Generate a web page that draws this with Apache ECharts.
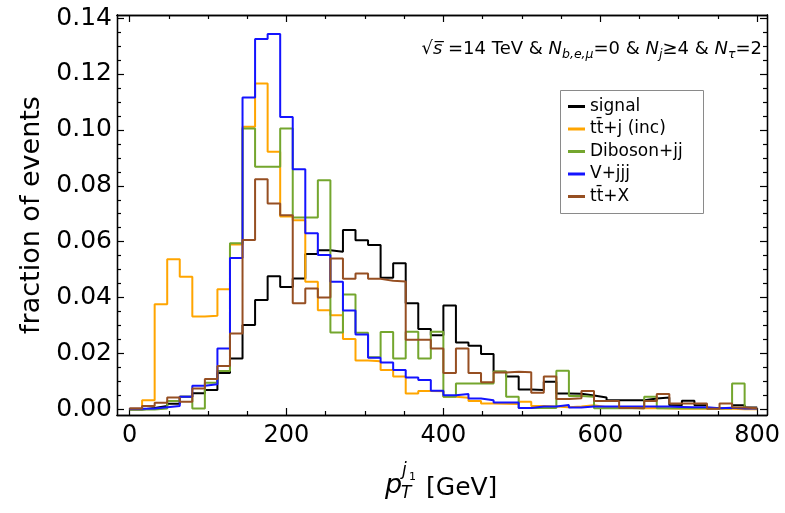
<!DOCTYPE html>
<html>
<head>
<meta charset="utf-8">
<script src="https://cdn.jsdelivr.net/npm/echarts@6/dist/echarts.min.js"></script>
<style>
  html, body { margin: 0; padding: 0; background: #fff; }
  #chart { width: 785px; height: 513px; }
</style>
</head>
<body>
<div id="chart"></div>
<script>
// histogram bins: 50 bins of 16 GeV from 0 to 800
const binWidth = 16;
const signal = [0.0000, 0.0005, 0.0012, 0.0020, 0.0045, 0.0058, 0.0069, 0.0130, 0.0182, 0.0302,
  0.0391, 0.0476, 0.0438, 0.0468, 0.0556, 0.0569, 0.0564, 0.0642, 0.0605, 0.0588,
  0.0471, 0.0523, 0.0380, 0.0288, 0.0265, 0.0372, 0.0239, 0.0228, 0.0198, 0.0135,
  0.0118, 0.0071, 0.0069, 0.0099, 0.0057, 0.0056, 0.0050, 0.0043, 0.0033, 0.0033,
  0.0033, 0.0039, 0.0043, 0.0015, 0.0031, 0.0015, 0.0004, 0.0004, 0.0015, 0.0007];
const ttj = [0.0003, 0.0033, 0.0376, 0.0537, 0.0475, 0.0332, 0.0335, 0.0430, 0.0590, 0.1011,
  0.1166, 0.0922, 0.0690, 0.0677, 0.0457, 0.0355, 0.0337, 0.0252, 0.0175, 0.0172,
  0.0141, 0.0118, 0.0057, 0.0066, 0.0065, 0.0045, 0.0042, 0.0030, 0.0021, 0.0020,
  0.0019, 0.0027, 0.0012, 0.0010, 0.0008, 0.0010, 0.0015, 0.0008, 0.0006, 0.0006,
  0.0004, 0.0005, 0.0003, 0.0002, 0.0003, 0.0002, 0.0002, 0.0002, 0.0001, 0.0001];
const diboson = [0.0000, 0.0000, 0.0003, 0.0030, 0.0045, 0.0003, 0.0095, 0.0137, 0.0594, 0.1005,
  0.0868, 0.0868, 0.1005, 0.0687, 0.0687, 0.0820, 0.0275, 0.0411, 0.0274, 0.0187,
  0.0277, 0.0182, 0.0278, 0.0182, 0.0278, 0.0045, 0.0093, 0.0093, 0.0093, 0.0136,
  0.0045, 0.0005, 0.0005, 0.0005, 0.0138, 0.0048, 0.0045, 0.0004, 0.0004, 0.0004,
  0.0004, 0.0045, 0.0004, 0.0004, 0.0004, 0.0004, 0.0004, 0.0004, 0.0093, 0.0004];
const vjjj = [0.0002, 0.0003, 0.0008, 0.0012, 0.0045, 0.0085, 0.0090, 0.0218, 0.0542, 0.1116,
  0.1325, 0.1343, 0.1046, 0.0859, 0.0630, 0.0552, 0.0457, 0.0354, 0.0268, 0.0185,
  0.0168, 0.0141, 0.0114, 0.0105, 0.0067, 0.0051, 0.0055, 0.0039, 0.0033, 0.0025,
  0.0025, 0.0005, 0.0010, 0.0010, 0.0016, 0.0007, 0.0010, 0.0010, 0.0010, 0.0010,
  0.0010, 0.0010, 0.0010, 0.0009, 0.0008, 0.0008, 0.0004, 0.0006, 0.0003, 0.0003];
const ttx = [0.0003, 0.0012, 0.0024, 0.0043, 0.0027, 0.0075, 0.0109, 0.0155, 0.0272, 0.0606,
  0.0823, 0.0737, 0.0695, 0.0380, 0.0433, 0.0400, 0.0540, 0.0467, 0.0486, 0.0467,
  0.0460, 0.0458, 0.0249, 0.0249, 0.0218, 0.0130, 0.0218, 0.0130, 0.0097, 0.0132,
  0.0135, 0.0133, 0.0060, 0.0118, 0.0037, 0.0040, 0.0066, 0.0030, 0.0030, 0.0005,
  0.0004, 0.0030, 0.0055, 0.0021, 0.0021, 0.0021, 0.0002, 0.0021, 0.0007, 0.0004];

const seriesNames = ['signal', 't\u0074\u0304+j (inc)', 'Diboson+jj', 'V+jjj', 't\u0074\u0304+X'];
const seriesColors = ['#000000', '#FFA500', '#74A62E', '#1414FF', '#964F22'];

const xTicks = [0, 200, 400, 600, 800];
const yTicks = [0, 0.02, 0.04, 0.06, 0.08, 0.10, 0.12, 0.14];

let xMinor = [];
for (let v = 0; v <= 800; v += 50) if (xTicks.indexOf(v) < 0) xMinor.push(v);
let yMinor = [];
for (let i = 0; i <= 28; i++) if (i % 4 !== 0) yMinor.push(+(i * 0.005).toFixed(3));

const font = 'DejaVu Sans';

function toSteps(vals) {
  let pts = vals.map((v, i) => [i * binWidth, v]);
  pts.push([vals.length * binWidth, vals[vals.length - 1]]);
  return pts;
}

function xAx(pos, ticks, len, labels) {
  return {
    type: 'value', position: pos, min: -16, max: 812.5,
    axisLine: { show: true, onZero: false, lineStyle: { color: '#000', width: 1.3 } },
    axisTick: { show: true, inside: true, length: len, customValues: ticks, lineStyle: { color: '#000', width: 1.2 } },
    axisLabel: labels ? { show: true, customValues: ticks, fontSize: 24, fontFamily: font, color: '#000', margin: 9 } : { show: false },
    splitLine: { show: false }
  };
}
function yAx(pos, ticks, len, labels) {
  return {
    type: 'value', position: pos, min: -0.002, max: 0.1411,
    axisLine: { show: true, onZero: false, lineStyle: { color: '#000', width: 1.3 } },
    axisTick: { show: true, inside: true, length: len, customValues: ticks, lineStyle: { color: '#000', width: 1.2 } },
    axisLabel: labels ? {
      show: true, customValues: ticks, fontSize: 25, fontFamily: font, color: '#000', margin: 5,
      formatter: v => v.toFixed(2)
    } : { show: false },
    splitLine: { show: false }
  };
}

const datasets = [signal, ttj, diboson, vjjj, ttx];

const chart = echarts.init(document.getElementById('chart'));
chart.setOption({
  animation: false,
  backgroundColor: '#fff',
  grid: { left: 117, right: 18, top: 15, bottom: 98 },
  xAxis: [xAx('bottom', xTicks, 7, true), xAx('bottom', xMinor, 4, false), xAx('top', xTicks, 7, false), xAx('top', xMinor, 4, false)],
  yAxis: [
    Object.assign(yAx('left', yTicks, 7, true), {
      name: 'fraction of events', nameLocation: 'middle', nameGap: 72,
      nameTextStyle: { fontSize: 27, fontFamily: font, color: '#000' }
    }),
    yAx('left', yMinor, 4, false), yAx('right', yTicks, 7, false), yAx('right', yMinor, 4, false)
  ],
  legend: {
    orient: 'vertical', left: 563, top: 93, z: 5,
    itemWidth: 17, itemHeight: 3, itemGap: 5.5, icon: 'rect',
    textStyle: { fontSize: 17, fontFamily: font, color: '#000', lineHeight: 17 },
    data: seriesNames
  },
  graphic: [
    {
      type: 'rect', z: 3, shape: { x: 560.5, y: 90.5, width: 143, height: 123 },
      style: { fill: '#fff', stroke: '#8a8a8a', lineWidth: 1 }
    },
    {
      type: 'text', z: 5,
      style: {
        x: 762, y: 49, align: 'right', verticalAlign: 'middle',
        text: '{n|√}{it|s\u0305}{n| =14 TeV & }{it|N}{sub|b,e,μ}{n|=0 & }{it|N}{sub|j}{n|≥4 & }{it|N}{sub|τ}{n|=2}',
        rich: {
          n: { fontSize: 18, fontFamily: font, fill: '#000', lineHeight: 24, verticalAlign: 'middle' },
          it: { fontSize: 18, fontFamily: font, fontStyle: 'italic', fill: '#000', lineHeight: 24, verticalAlign: 'middle' },
          sub: { fontSize: 12.5, fontFamily: font, fontStyle: 'italic', fill: '#000', lineHeight: 13, verticalAlign: 'bottom' }
        }
      }
    },
    { type: 'text', z: 5, style: { x: 385, y: 486, text: 'p', font: 'italic 27px "DejaVu Sans"', fill: '#000', verticalAlign: 'middle' } },
    { type: 'text', z: 5, style: { x: 402, y: 471, text: 'j', font: 'italic 17px "DejaVu Sans"', fill: '#000', verticalAlign: 'middle' } },
    { type: 'text', z: 5, style: { x: 409, y: 477, text: '1', font: '11px "DejaVu Sans"', fill: '#000', verticalAlign: 'middle' } },
    { type: 'text', z: 5, style: { x: 401, y: 494, text: 'T', font: 'italic 17px "DejaVu Sans"', fill: '#000', verticalAlign: 'middle' } },
    { type: 'text', z: 5, style: { x: 426, y: 488, text: '[GeV]', font: '25px "DejaVu Sans"', fill: '#000', verticalAlign: 'middle' } }
  ],
  series: datasets.map((vals, i) => ({
    name: seriesNames[i],
    type: 'line',
    step: 'end',
    symbol: 'none',
    xAxisIndex: 0,
    yAxisIndex: 0,
    itemStyle: { color: seriesColors[i] },
    lineStyle: { color: seriesColors[i], width: 2 },
    data: toSteps(vals)
  }))
});
</script>
</body>
</html>
